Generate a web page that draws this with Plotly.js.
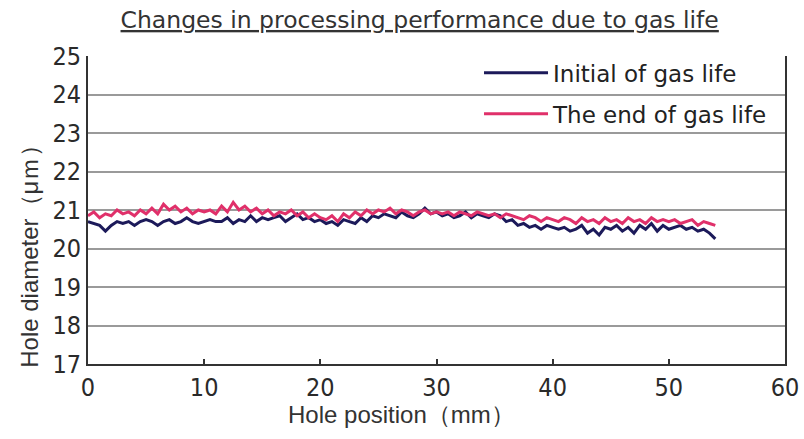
<!DOCTYPE html>
<html>
<head>
<meta charset="utf-8">
<script src="https://cdn.plot.ly/plotly-3.0.1.min.js"></script>
<style>html,body{margin:0;padding:0;background:#fff;}#chart{width:804px;height:439px;}</style>
</head>
<body>
<div id="chart"></div>
<script>
// Hole positions (mm), 0.5 mm step from 0 to 54
const positions = [
  0,0.5,1,1.5,2,2.5,3,3.5,4,4.5,5,
  5.5,6,6.5,7,7.5,8,8.5,9,9.5,10,
  10.5,11,11.5,12,12.5,13,13.5,14,14.5,15,
  15.5,16,16.5,17,17.5,18,18.5,19,19.5,20,
  20.5,21,21.5,22,22.5,23,23.5,24,24.5,25,
  25.5,26,26.5,27,27.5,28,28.5,29,29.5,30,
  30.5,31,31.5,32,32.5,33,33.5,34,34.5,35,
  35.5,36,36.5,37,37.5,38,38.5,39,39.5,40,
  40.5,41,41.5,42,42.5,43,43.5,44,44.5,45,
  45.5,46,46.5,47,47.5,48,48.5,49,49.5,50,
  50.5,51,51.5,52,52.5,53,53.5,54
];
// Hole diameter (µm), initial of gas life
const initialGasLife = [
  20.7,20.65,20.6,20.45,20.6,20.7,20.65,20.7,20.6,20.7,20.75,
  20.7,20.6,20.7,20.75,20.65,20.7,20.8,20.7,20.65,20.7,
  20.75,20.7,20.7,20.8,20.65,20.75,20.7,20.85,20.7,20.8,
  20.75,20.8,20.85,20.7,20.8,20.9,20.75,20.8,20.7,20.75,
  20.65,20.7,20.6,20.75,20.7,20.65,20.8,20.7,20.85,20.8,
  20.9,20.85,20.8,20.95,20.85,20.8,20.9,21.05,20.9,20.95,
  20.85,20.9,20.8,20.85,20.95,20.8,20.9,20.85,20.8,20.9,
  20.85,20.7,20.75,20.6,20.65,20.55,20.6,20.5,20.6,20.55,
  20.5,20.55,20.45,20.5,20.6,20.4,20.5,20.35,20.55,20.5,
  20.6,20.45,20.55,20.4,20.6,20.5,20.65,20.45,20.6,20.5,
  20.55,20.6,20.5,20.55,20.45,20.5,20.4,20.25
];
// Hole diameter (µm), end of gas life
const endGasLife = [
  20.85,20.95,20.8,20.9,20.85,21.0,20.9,20.95,20.85,21.0,20.9,
  21.05,20.9,21.15,21.0,21.1,20.95,21.05,20.9,21.0,20.95,
  21.0,20.9,21.1,20.95,21.2,21.0,21.1,20.95,21.05,20.9,
  21.0,20.85,20.95,20.9,21.0,20.85,20.95,20.8,20.9,20.8,
  20.75,20.85,20.7,20.9,20.8,20.95,20.85,21.0,20.9,21.0,
  20.95,21.05,20.9,21.0,20.95,20.85,20.95,21.0,20.9,20.95,
  20.9,20.95,20.85,20.95,20.9,20.85,20.95,20.9,20.85,20.9,
  20.8,20.9,20.85,20.8,20.75,20.85,20.8,20.7,20.8,20.75,
  20.7,20.8,20.75,20.65,20.8,20.7,20.75,20.65,20.8,20.7,
  20.75,20.65,20.8,20.7,20.75,20.65,20.8,20.7,20.75,20.7,
  20.75,20.65,20.7,20.75,20.6,20.7,20.65,20.6
];
const seriesNames = ['Initial of gas life', 'The end of gas life'];
const xTicks = [0,10,20,30,40,50,60];
const yTicks = [17,18,19,20,21,22,23,24,25];

const sans = 'Liberation Sans, Arial, sans-serif';
const narrow = 'Liberation Sans Narrow, DejaVu Sans Condensed, Liberation Sans, sans-serif';
const wide = 'DejaVu Sans, Verdana, sans-serif';
const traces = [
  {x: positions, y: initialGasLife, name: seriesNames[0], type: 'scatter', mode: 'lines',
   legendgroup: 'a', line: {color: '#1c1a5a', width: 3}},
  {x: positions, y: endGasLife, name: seriesNames[1], type: 'scatter', mode: 'lines',
   legendgroup: 'b', line: {color: '#e0306a', width: 3}}
];
const layout = {
  width: 804, height: 439,
  margin: {l: 88, r: 19, t: 56, b: 75},
  paper_bgcolor: '#fff', plot_bgcolor: '#fff',
  font: {family: sans, color: '#333', size: 20},
  title: {text: '<u>Changes in processing performance due to gas life</u>',
          x: 0.522, xanchor: 'center', y: 0.955, yanchor: 'middle',
          font: {family: wide, size: 23.5, color: '#333'}},
  xaxis: {range: [0, 60], tickvals: xTicks, ticktext: xTicks.map(String),
          showgrid: false, zeroline: false, showline: true, linecolor: '#333', linewidth: 2,
          mirror: false, ticks: 'inside', ticklen: 5, tickcolor: '#333', tickwidth: 2,
          tickfont: {family: narrow, size: 25, color: '#2a2a2a'}, fixedrange: true},
  yaxis: {range: [17, 25], tickvals: yTicks, ticktext: yTicks.map(String),
          showgrid: true, gridcolor: '#9a9a9a', gridwidth: 2, zeroline: false,
          showline: true, linecolor: '#333', linewidth: 2, mirror: true, ticks: '',
          tickfont: {family: narrow, size: 25, color: '#2a2a2a'}, fixedrange: true},
  showlegend: true,
  legend: {x: 0.561, xanchor: 'left', y: 1.015, yanchor: 'top', bgcolor: 'rgba(0,0,0,0)',
           font: {family: wide, size: 23, color: '#222'}, traceorder: 'grouped',
           tracegroupgap: 8, itemwidth: 64},
  annotations: [
    {text: 'Hole diameter（μｍ）', textangle: -90, xref: 'paper', yref: 'paper',
     x: -0.085, y: 0.37, xanchor: 'center', yanchor: 'middle', showarrow: false,
     font: {family: sans, size: 24, color: '#333'}},
    {text: 'Hole position（mm）', xref: 'paper', yref: 'paper',
     x: 0.45, y: -0.165, xanchor: 'center', yanchor: 'middle', showarrow: false,
     font: {family: sans, size: 24, color: '#333'}}
  ]
};
Plotly.newPlot('chart', traces, layout, {displayModeBar: false, staticPlot: true});
</script>
</body>
</html>
